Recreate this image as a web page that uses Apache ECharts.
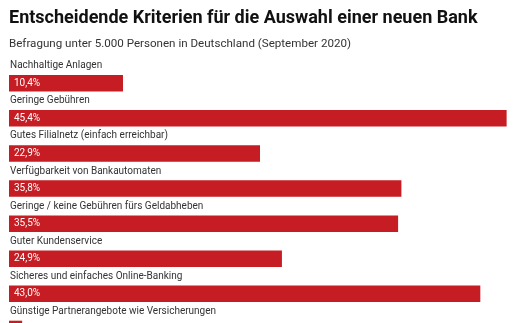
<!DOCTYPE html>
<html>
<head>
<meta charset="utf-8">
<script src="https://cdn.jsdelivr.net/npm/echarts@6/dist/echarts.min.js"></script>
<style>
  html, body { margin: 0; padding: 0; background: #fff; }
  #chart { width: 516px; height: 323px; }
</style>
</head>
<body>
<div id="chart"></div>
<script>
// Survey criteria, share of respondents in percent
const categories = [
  'Nachhaltige Anlagen',
  'Geringe Gebühren',
  'Gutes Filialnetz (einfach erreichbar)',
  'Verfügbarkeit von Bankautomaten',
  'Geringe / keine Gebühren fürs Geldabheben',
  'Guter Kundenservice',
  'Sicheres und einfaches Online-Banking',
  'Günstige Partnerangebote wie Versicherungen'
];
const shares = [10.4, 45.4, 22.9, 35.8, 35.5, 24.9, 43.0, 1.2];

const fmt = v => v.toFixed(1).replace('.', ',') + '%';
const FONT = 'Roboto, "Noto Sans", sans-serif';
const RED = '#c51d23';

const chart = echarts.init(document.getElementById('chart'), null, { renderer: 'canvas' });

chart.setOption({
  animation: false,
  backgroundColor: '#fff',
  title: [
    {
      text: 'Entscheidende Kriterien für die Auswahl einer neuen Bank',
      left: 4, top: 4, padding: 5,
      textStyle: { fontFamily: FONT, fontWeight: 'bold', fontSize: 18, color: '#111' }
    },
    {
      text: 'Befragung unter 5.000 Personen in Deutschland (September 2020)',
      left: 4, top: 33, padding: 5,
      textStyle: { fontFamily: FONT, fontWeight: 'normal', fontSize: 11.6, color: '#333' }
    }
  ],
  grid: {
    left: 9, top: 65.7, width: 504.2, height: 280.8,
    containLabel: false,
    outerBoundsMode: 'none'
  },
  xAxis: {
    type: 'value', min: 0, max: 46,
    show: false
  },
  yAxis: {
    type: 'category', data: categories, inverse: true,
    show: false
  },
  series: [
    {
      type: 'bar',
      data: shares,
      barWidth: 16.5,
      itemStyle: { color: RED },
      label: {
        show: true,
        position: 'insideLeft',
        distance: 5,
        formatter: p => fmt(p.value),
        color: '#fff',
        fontFamily: FONT,
        fontSize: 10
      }
    },
    {
      // transparent twin bars carrying the category captions above each bar
      type: 'bar',
      data: shares,
      barWidth: 16.5,
      barGap: '-100%',
      itemStyle: { color: 'rgba(0,0,0,0)' },
      silent: true,
      label: {
        show: true,
        position: [1, -4.3],
        align: 'left',
        verticalAlign: 'bottom',
        formatter: p => p.name,
        color: '#333',
        fontFamily: FONT,
        fontSize: 10,
        lineHeight: 10
      }
    }
  ]
});
</script>
</body>
</html>
